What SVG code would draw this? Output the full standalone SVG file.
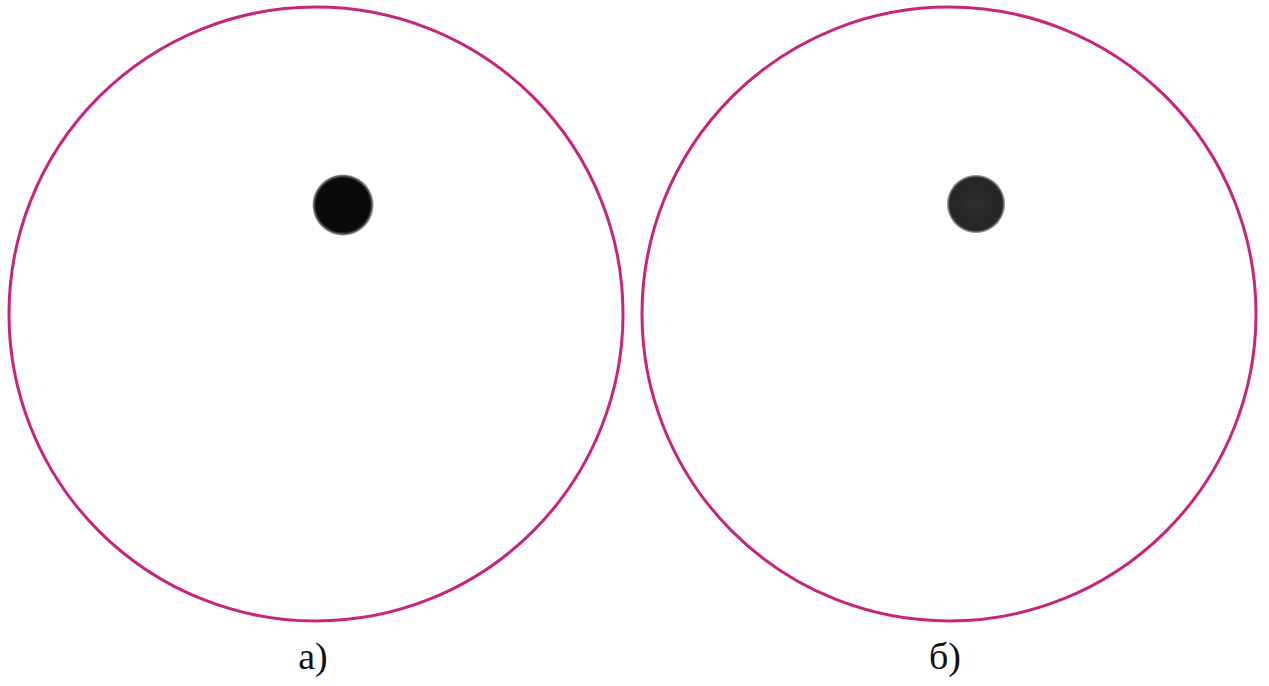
<svg xmlns="http://www.w3.org/2000/svg" width="1269" height="686" viewBox="0 0 1269 686">
<defs>
<style>
.ring{fill:none;stroke:#c8247c;stroke-width:3}
</style>
<radialGradient id="dotA">
<stop offset="0" stop-color="#0a0a0a"/>
<stop offset="0.87" stop-color="#0a0a0a"/>
<stop offset="0.95" stop-color="#0a0a0a" stop-opacity="0.6"/>
<stop offset="1" stop-color="#0a0a0a" stop-opacity="0"/>
</radialGradient>
<radialGradient id="dotB">
<stop offset="0" stop-color="#2e2e2e"/>
<stop offset="0.89" stop-color="#252525"/>
<stop offset="0.96" stop-color="#252525" stop-opacity="0.55"/>
<stop offset="1" stop-color="#252525" stop-opacity="0"/>
</radialGradient>
</defs>
<g id="panel-a">
<circle class="ring" cx="316" cy="314" r="307"/>
<circle cx="343" cy="205" r="31" fill="url(#dotA)"/>
<text x="313" y="669" font-family="'Liberation Serif','DejaVu Serif',serif" font-size="38" fill="#111" text-anchor="middle">а)</text>
</g>
<g id="panel-b">
<circle class="ring" cx="949" cy="314" r="307"/>
<circle cx="976" cy="204" r="29.5" fill="url(#dotB)"/>
<text x="945" y="669" font-family="'Liberation Serif','DejaVu Serif',serif" font-size="38" fill="#111" text-anchor="middle">б)</text>
</g>
<g id="connectors"/>
</svg>
